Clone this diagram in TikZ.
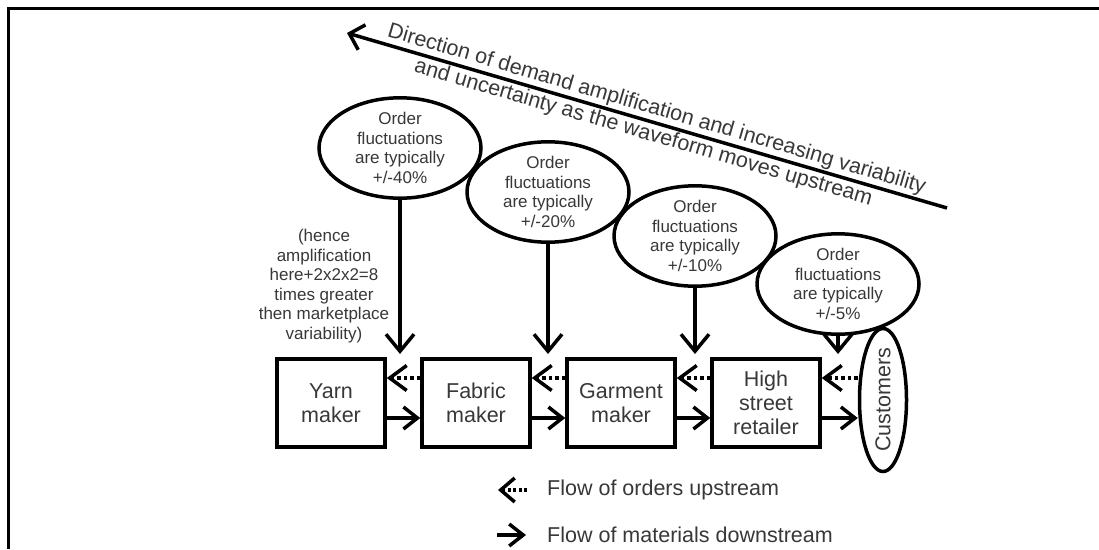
\documentclass[tikz,border=0pt]{standalone}
\usepackage{fontspec}
\setmainfont{Liberation Sans}
\usetikzlibrary{arrows.meta,shapes.geometric}
\begin{document}
\begin{tikzpicture}[x=1pt,y=-1pt,
  txt/.style={text=black!78},
  stage/.style={draw, line width=3.5pt, minimum width=108pt, minimum height=88pt,
    inner sep=0pt, align=center, font=\fontsize{21.5}{24}\selectfont, txt},
  fluct/.style={draw, ellipse, line width=3.5pt, minimum width=162pt, minimum height=90pt,
    inner sep=0pt, align=center, font=\fontsize{17}{19.5}\selectfont, txt},
  note/.style={align=center, font=\fontsize{17}{19.5}\selectfont, txt},
  legendtxt/.style={anchor=west, inner sep=0pt, font=\fontsize{21.5}{24}\selectfont, txt},
  feed/.style={line width=3.5pt, -{Straight Barb[length=17pt,width=28pt]}},
  matflow/.style={line width=3.5pt, -{Straight Barb[length=14pt,width=22pt]}},
  ordflow/.style={line width=3.5pt, dash pattern=on 3.5pt off 3pt,
    -{Straight Barb[length=17pt,width=25pt]}},
]
\useasboundingbox (0,0) rectangle (1099,549);
\fill[white] (0,0) rectangle (1099,549);
% frame
\draw[line width=3.5pt] (1099,8.5) -| (8.5,549);

% direction of amplification
\coordinate (dirL) at (347,33);
\coordinate (dirR) at (947,208);
\draw[line width=3.5pt, {Straight Barb[length=13pt,width=26pt]}-] (dirL) -- (dirR)
  node[pos=0.51, sloped, above, inner sep=1.5pt, font=\fontsize{21.5}{24}\selectfont, txt]
    {Direction of demand amplification and increasing variability}
  node[pos=0.5, sloped, below, inner sep=1.5pt, font=\fontsize{21.5}{24}\selectfont, txt]
    {and uncertainty as the waveform moves upstream};

% order fluctuation bubbles
\node[fluct] (e1) at (400,148) {Order\\fluctuations\\are typically\\+/-40\%};
\node[fluct] (e2) at (548,192) {Order\\fluctuations\\are typically\\+/-20\%};
\node[fluct] (e3) at (695,236) {Order\\fluctuations\\are typically\\+/-10\%};
\node[fluct] (e4) at (838,284) {Order\\fluctuations\\are typically\\+/-5\%};

\node[note] (amp) at (324,286) {(hence\\amplification\\here+2x2x2=8\\times greater\\then marketplace\\variability)};

% supply chain stages
\node[stage] (yarn) at (331,403) {Yarn\\maker};
\node[stage] (fab)  at (476,403) {Fabric\\maker};
\node[stage] (gar)  at (621,403) {Garment\\maker};
\node[stage] (hsr)  at (766,403) {High\\street\\retailer};
\node[draw, ellipse, line width=3.5pt, minimum width=47pt, minimum height=143pt,
  inner sep=0pt] (cust) at (883,400) {};
\node[rotate=90, inner sep=0pt, font=\fontsize{21.5}{24}\selectfont, txt] (custlbl)
  at (cust.center) {Customers};

% bubble arrows
\coordinate (t1) at (400,354);
\coordinate (t2) at (548,354);
\coordinate (t3) at (695,354);
\coordinate (t4) at (838,354);
\draw[feed] (e1.south) -- (t1);
\draw[feed] (e2.south) -- (t2);
\draw[feed] (e3.south) -- (t3);
\draw[feed] (e4.south) -- (t4);

% orders upstream
\draw[ordflow] ([yshift=25pt]fab.west) -- ([yshift=25pt]yarn.east);
\draw[ordflow] ([yshift=25pt]gar.west) -- ([yshift=25pt]fab.east);
\draw[ordflow] ([yshift=25pt]hsr.west) -- ([yshift=25pt]gar.east);
\coordinate (o4) at ([yshift=25pt]hsr.east);
\draw[ordflow] (o4 -| cust.west) -- (o4);

% materials downstream
\draw[matflow] ([yshift=-15pt]yarn.east) -- ([yshift=-15pt]fab.west);
\draw[matflow] ([yshift=-15pt]fab.east) -- ([yshift=-15pt]gar.west);
\draw[matflow] ([yshift=-15pt]gar.east) -- ([yshift=-15pt]hsr.west);
\coordinate (m4) at ([yshift=-15pt]hsr.east);
\draw[matflow] (m4) -- (m4 -| cust.west);

% legend
\node[legendtxt] (lg1) at (547,490) {Flow of orders upstream};
\node[legendtxt] (lg2) at (547,535) {Flow of materials downstream};
\coordinate (lg1a) at (527,490);
\coordinate (lg1b) at (498,490);
\coordinate (lg2a) at (497,535);
\coordinate (lg2b) at (526,535);
\draw[line width=3.5pt, dash pattern=on 3pt off 2.5pt,
  -{Straight Barb[length=14pt,width=24pt]}] (lg1a) -- (lg1b);
\draw[matflow] (lg2a) -- (lg2b);
\end{tikzpicture}
\end{document}
